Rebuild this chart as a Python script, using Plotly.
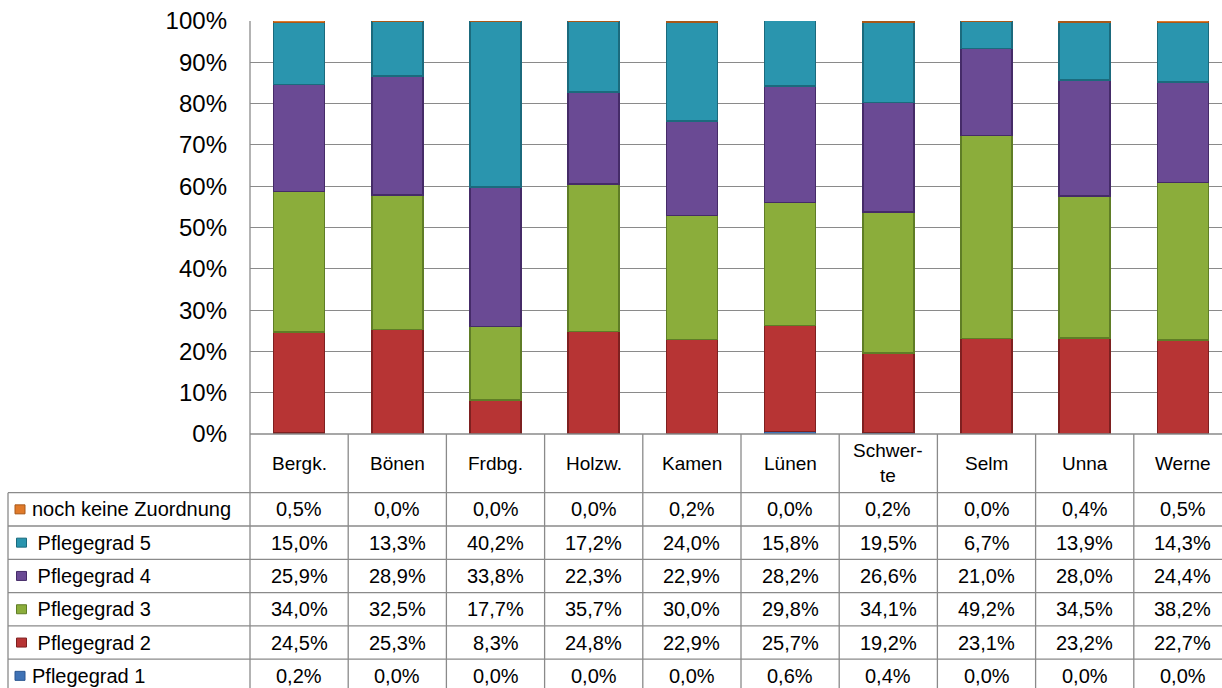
import plotly.graph_objects as go

# ---------------- data ----------------
categories = ["Bergk.", "Bönen", "Frdbg.", "Holzw.", "Kamen", "Lünen", "Schwerte", "Selm", "Unna", "Werne"]
header_labels = ["Bergk.", "Bönen", "Frdbg.", "Holzw.", "Kamen", "Lünen", "Schwer-<br>te", "Selm", "Unna", "Werne"]

series_names = ["Pflegegrad 1", "Pflegegrad 2", "Pflegegrad 3", "Pflegegrad 4", "Pflegegrad 5", "noch keine Zuordnung"]
pg1 = [0.2, 0.0, 0.0, 0.0, 0.0, 0.6, 0.4, 0.0, 0.0, 0.0]
pg2 = [24.5, 25.3, 8.3, 24.8, 22.9, 25.7, 19.2, 23.1, 23.2, 22.7]
pg3 = [34.0, 32.5, 17.7, 35.7, 30.0, 29.8, 34.1, 49.2, 34.5, 38.2]
pg4 = [25.9, 28.9, 33.8, 22.3, 22.9, 28.2, 26.6, 21.0, 28.0, 24.4]
pg5 = [15.0, 13.3, 40.2, 17.2, 24.0, 15.8, 19.5, 6.7, 13.9, 14.3]
noch = [0.5, 0.0, 0.0, 0.0, 0.2, 0.0, 0.2, 0.0, 0.4, 0.5]
series_values = [pg1, pg2, pg3, pg4, pg5, noch]

y_ticks = [0, 10, 20, 30, 40, 50, 60, 70, 80, 90, 100]
y_tick_labels = ["0%", "10%", "20%", "30%", "40%", "50%", "60%", "70%", "80%", "90%", "100%"]

# ---------------- styles ----------------
fill_colors = ["#3f72b5", "#b73434", "#8bad3b", "#6a4a94", "#2a95ae", "#e07a2a"]
edge_colors = ["#2a5590", "#7e2020", "#5f7d26", "#452b68", "#1b6a7d", "#a85818"]
legend_labels = ["Pflegegrad 1", " Pflegegrad 2", " Pflegegrad 3", " Pflegegrad 4", " Pflegegrad 5", "noch keine Zuordnung"]

W, H = 1222, 688
FONT = "Liberation Sans, Arial, sans-serif"
GRID = "#8a8a8a"

plot_left = 250
col_w = 98.2
y0_px = 434     # 0 %
y100_px = 21    # 100 %
header_bottom = 492.7
row_h = 33.3
table_left = 8


def px(x):
    return x / W


def py(y):
    return 1 - y / H


fig = go.Figure()
for name, vals, fc, ec in zip(series_names, series_values, fill_colors, edge_colors):
    fig.add_trace(go.Bar(
        x=categories, y=vals, name=name,
        marker=dict(color=fc, line=dict(color=ec, width=1.6)),
        width=0.52, showlegend=False,
    ))

n = len(categories)
x_max = (W - plot_left) / col_w - 0.5

shapes = []
annotations = []

# left vertical border (plot + table)
shapes.append(dict(type="line", xref="paper", yref="paper",
                   x0=px(plot_left), x1=px(plot_left), y0=py(y100_px), y1=0,
                   line=dict(color=GRID, width=1.3)))
# column separators of the table
for k in range(1, n + 1):
    shapes.append(dict(type="line", xref="x", yref="paper",
                       x0=k - 0.5, x1=k - 0.5, y0=py(y0_px), y1=0,
                       line=dict(color=GRID, width=1.3)))
# table left border
shapes.append(dict(type="line", xref="paper", yref="paper",
                   x0=px(table_left), x1=px(table_left), y0=py(header_bottom), y1=0,
                   line=dict(color=GRID, width=1.3)))
# header top (0% baseline)
shapes.append(dict(type="line", xref="paper", yref="paper",
                   x0=px(plot_left), x1=1, y0=py(y0_px), y1=py(y0_px),
                   line=dict(color=GRID, width=1.3)))
# row lines
n_rows = len(series_names)
for r in range(n_rows + 1):
    yy = header_bottom + r * row_h
    shapes.append(dict(type="line", xref="paper", yref="paper",
                       x0=px(table_left), x1=1, y0=py(yy), y1=py(yy),
                       line=dict(color=GRID, width=1.3)))

# header labels
for cat, lab in zip(categories, header_labels):
    annotations.append(dict(x=cat, xref="x", y=py((y0_px + header_bottom) / 2), yref="paper",
                            text=lab, showarrow=False, xanchor="center", yanchor="middle",
                            font=dict(family=FONT, size=19, color="#000")))

# table rows: top row = last series
for r in range(n_rows):
    s = n_rows - 1 - r
    yc = header_bottom + (r + 0.5) * row_h
    # legend key
    kx0 = 15 if s in (0, 5) else 16.5
    shapes.append(dict(type="rect", xref="paper", yref="paper",
                       x0=px(kx0), x1=px(kx0 + 10), y0=py(yc - 4.5), y1=py(yc + 4.5),
                       fillcolor=fill_colors[s], line=dict(color=edge_colors[s], width=1)))
    annotations.append(dict(x=px(30), xref="paper", y=py(yc), yref="paper",
                            text=legend_labels[s], showarrow=False, xanchor="left", yanchor="middle",
                            font=dict(family=FONT, size=20, color="#000")))
    for cat, v in zip(categories, series_values[s]):
        txt = f"{v:.1f}".replace(".", ",") + "%"
        annotations.append(dict(x=cat, xref="x", y=py(yc), yref="paper",
                                text=txt, showarrow=False, xanchor="center", yanchor="middle",
                                font=dict(family=FONT, size=20, color="#000")))

fig.update_layout(
    width=W, height=H,
    margin=dict(l=0, r=0, t=0, b=0, autoexpand=False),
    paper_bgcolor="white", plot_bgcolor="white",
    barmode="stack", bargap=0.48,
    xaxis=dict(domain=[px(plot_left), 1], range=[-0.5, x_max],
               showticklabels=False, showgrid=False, zeroline=False, showline=False,
               type="category", fixedrange=True, automargin=False),
    yaxis=dict(domain=[py(y0_px), py(y100_px)], range=[0, 100],
               tickmode="array", tickvals=y_ticks, ticktext=y_tick_labels,
               showgrid=True, gridcolor=GRID, gridwidth=1.3,
               zeroline=False, showline=False,
               ticklabelstandoff=22, automargin=False,
               tickfont=dict(family=FONT, size=24, color="#000"),
               fixedrange=True),
    shapes=shapes, annotations=annotations,
    font=dict(family=FONT, color="#000"),
)

fig.write_html("out.html", config={"displayModeBar": False},
               post_script="document.body.style.margin='0';")
